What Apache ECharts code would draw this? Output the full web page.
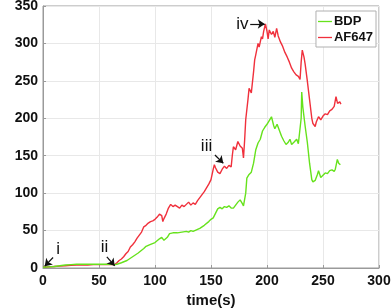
<!DOCTYPE html>
<html><head><meta charset="utf-8">
<script src="https://cdn.jsdelivr.net/npm/echarts@6/dist/echarts.min.js"></script>
<style>html,body{margin:0;padding:0;background:#fff}#c{width:392px;height:308px}</style>
</head><body><div id="c"></div>
<script>
const xTicks = [0, 50, 100, 150, 200, 250, 300];
const yTicks = [0, 50, 100, 150, 200, 250, 300, 350];
const redT = [0,5,10,15,20,25,30,35,40,45,50,55,60,64,66,68,70,72,74,76,78,80,82,84,86,88,90,92,94,96,98,100,102,104,106,107,108,110,112,114,116,118,120,122,124,126,128,130,132,134,136,138,140,142,144,146,148,150,152,153,154,156,158,160,162,164,166,168,169,170,172,174,176,178,179,180,181,183,184,186,187,188,189,190,192,193,195,196,197,198.6,200,201,202,204,205.6,207,208.6,210,212,214,216,218,220,222,224,226,228,229.5,230.5,231.5,233,234,236,238,240,241,243,244,246,248,250,252,254,256,258,260,261.6,263,265,266];
const redV = [1,1.5,2,2.5,3,3.5,4,4,4,4.5,4.5,4.5,5,4.5,7,10,12,15,19,22,28,31,35,40,44,48,55,57,60,62,63,65,68,72,70,62,66,72,80,85,82,84,82,80,84,82,85,88,84,87,85,90,94,98,102,107,112,118,132,138,134,128,126,132,136,133,137,135,150,162,158,169,163,160,147,170,198,225,240,234,248,262,278,285,300,295,309,306,316,326,316,306,318,312,316,308,320,310,302,296,288,282,275,267,262,258,256,252,275,291,282,273,250,225,200,193,189,195,202,198,203,206,205,210,212,216,229,220,222,219];
const greenT = [0,5,10,15,20,25,30,40,50,60,64,66,70,75,80,85,90,92,95,100,104,106,108,109,111,113,116,120,124,128,130,132,134,137,140,144,148,150,152,154,156,158,160,162,164,166,168,170,172,174,176,178,179,181,182,184,186,188,190,192,194,196,198,200,202,204,206,207,209,210,212,213,215,217,219,220.5,222,224,226.5,228,229.5,230.5,231,232,234,236,238,240,241,243,245,246,248,250,252,254,256,258,260,261,262.8,264,265.5];
const greenV = [1,1.5,2,3,4,4.5,5,5,5,5,4.5,5,7,10,15,20,26,29,31,34,39,41,37,35,41,46,47,47,48,49,48,50,49,51,53,57,62,65,67,73,79,81,79,82,81,83,80,80,84,88,91,86,83,100,120,125,128,140,158,167,172,183,188,192,197,202,190,186,192,188,180,176,170,165,168,172,165,168,172,166,168,200,235,215,190,168,140,118,115,117,125,130,121,124,127,126,130,131,129,132,145,140,138];
const seriesNames = ['BDP', 'AF647'];
// annotations: [label, textT, textV, arrowFromT, arrowFromV, arrowToT, arrowToV]
const annotations = [
  ['i', 13.5, 25, 9, 14, 1.5, 2.5],
  ['ii', 55, 27, 57, 15, 64, 3],
  ['iii', 146, 162, 153.5, 151, 161, 140],
  ['iv', 178, 326, 185, 326, 198, 326]
];

const zip = (a, b) => a.map((v, i) => [v, b[i]]);
const chart = echarts.init(document.getElementById('c'), null, {renderer: 'canvas'});
const FONT = 'Liberation Sans, Arial, Helvetica, sans-serif';
chart.setOption({
  animation: false,
  grid: {left: 43, right: 13, top: 6, bottom: 40, containLabel: false, outerBoundsMode: 'none',
    show: true, borderColor: '#9a9a9a', borderWidth: 1},
  legend: {
    data: seriesNames, orient: 'vertical', right: 16, top: 11,
    itemWidth: 14, itemHeight: 10, itemGap: 3,
    padding: [4, 3, 3, 2],
    borderColor: '#b0b0b0', borderWidth: 1, backgroundColor: '#fff',
    textStyle: {fontFamily: FONT, fontWeight: 'bold', fontSize: 13, color: '#111', padding: [0, 0, 0, -3]},
    icon: 'path://M0,5 L14,5 L14,6.3 L0,6.3 Z'
  },
  xAxis: {
    type: 'value', min: 0, max: 300, interval: 50,
    name: 'time(s)', nameLocation: 'middle', nameGap: 25,
    nameTextStyle: {fontFamily: FONT, fontWeight: 'bold', fontSize: 15, color: '#111'},
    axisLine: {show: true, lineStyle: {color: '#9a9a9a'}},
    axisTick: {show: true, inside: true, length: 3, lineStyle: {color: '#9a9a9a'}},
    axisLabel: {fontFamily: FONT, fontWeight: 'bold', fontSize: 14, color: '#111', margin: 6,
      formatter: v => xTicks.includes(v) ? String(v) : ''},
    splitLine: {show: true, lineStyle: {color: '#e8e8e8'}}
  },
  yAxis: {
    type: 'value', min: 0, max: 350, interval: 50,
    name: 'Concentration factor', nameLocation: 'middle', nameGap: 30,
    nameTextStyle: {fontFamily: FONT, fontWeight: 'bold', fontSize: 15, color: '#111'},
    axisLine: {show: true, lineStyle: {color: '#9a9a9a'}},
    axisTick: {show: true, inside: true, length: 3, lineStyle: {color: '#9a9a9a'}},
    axisLabel: {fontFamily: FONT, fontWeight: 'bold', fontSize: 14, color: '#111', margin: 5,
      formatter: v => yTicks.includes(v) ? String(v) : ''},
    splitLine: {show: true, lineStyle: {color: '#e8e8e8'}}
  },
  series: [
    {name: 'BDP', type: 'line', data: zip(greenT, greenV), showSymbol: false, symbol: 'none',
      lineStyle: {color: '#66e21c', width: 1.4}, itemStyle: {color: '#66e21c'}, z: 3},
    {name: 'AF647', type: 'line', data: zip(redT, redV), showSymbol: false, symbol: 'none',
      lineStyle: {color: '#f0303c', width: 1.4}, itemStyle: {color: '#f0303c'}, z: 2,
      markLine: {
        silent: true, animation: false, symbol: ['none', 'arrow'], symbolSize: 7,
        lineStyle: {color: '#111', width: 1.2, type: 'solid'}, label: {show: false},
        data: annotations.map(a => [{coord: [a[3], a[4]]}, {coord: [a[5], a[6]]}])
      },
      markPoint: {
        silent: true, symbol: 'circle', symbolSize: 0,
        label: {show: true, position: 'inside', fontFamily: FONT, fontSize: 17, color: '#111', formatter: p => p.name},
        data: annotations.map(a => ({name: a[0], coord: [a[1], a[2]]}))
      }
    }
  ]
});
</script></body></html>
